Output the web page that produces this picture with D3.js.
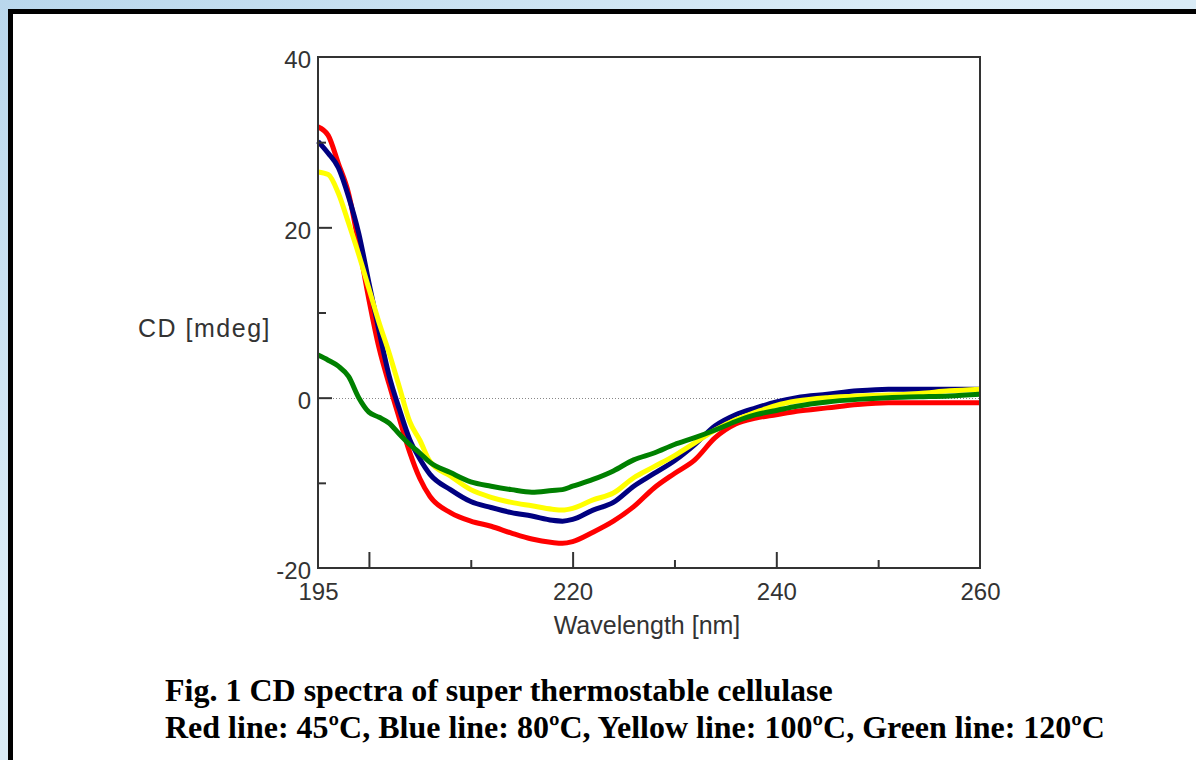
<!DOCTYPE html>
<html>
<head>
<meta charset="utf-8">
<script src="https://cdn.jsdelivr.net/npm/d3@7"></script>
<style>
  body { margin: 0; padding: 0; overflow: hidden; }
  svg { display: block; }
</style>
</head>
<body>
<div id="chart"></div>
<script>
// wavelengths (nm) the curves were read at
const wavelengths = [195, 196, 197, 198, 199, 200, 201, 202, 203, 204, 205, 206, 208, 210, 212, 214, 216, 218, 219, 220,
  222, 224, 226, 228, 230, 232, 234, 236, 238, 240, 242, 245, 248, 251, 254, 257, 260];

// CD [mdeg] per temperature
const red45 = [31.8, 30.8, 27.5, 24.0, 18.0, 11.5, 5.8, 1.5, -2.5, -6.4, -9.5, -11.6, -13.5, -14.5, -15.1, -15.9, -16.6, -17.0, -17.1, -16.9,
  -15.8, -14.5, -12.8, -10.6, -8.9, -7.3, -4.7, -3.1, -2.4, -2.0, -1.6, -1.2, -0.8, -0.6, -0.6, -0.6, -0.6];
const blue80 = [30.1, 28.7, 27.0, 23.6, 19.3, 13.5, 7.8, 2.5, -1.4, -4.9, -7.2, -9.0, -10.8, -12.2, -12.9, -13.5, -13.9, -14.4, -14.5, -14.3,
  -13.2, -12.3, -10.4, -8.9, -7.4, -5.5, -3.3, -2.0, -1.2, -0.5, 0.0, 0.4, 0.8, 1.0, 1.0, 1.0, 1.0];
const yellow100 = [26.5, 26.2, 24.0, 20.5, 16.8, 12.8, 8.8, 5.2, 1.2, -2.8, -5.0, -7.5, -9.2, -10.8, -11.7, -12.3, -12.7, -13.1, -13.2, -13.0,
  -12.0, -11.2, -9.4, -8.1, -6.8, -5.3, -3.8, -2.6, -1.7, -0.9, -0.4, 0.0, 0.2, 0.3, 0.5, 0.8, 1.0];
const green120 = [5.0, 4.4, 3.7, 2.5, 0.0, -1.7, -2.3, -3.0, -4.3, -5.5, -6.5, -7.6, -8.8, -9.9, -10.4, -10.8, -11.1, -10.9, -10.8, -10.4,
  -9.6, -8.6, -7.3, -6.5, -5.5, -4.7, -3.8, -2.8, -2.0, -1.5, -1.0, -0.5, -0.2, 0.0, 0.1, 0.2, 0.4];

const xLabelTicks = [195, 220, 240, 260];
const xMajorTicks = [200, 220, 240];
const xMinorTicks = [210, 230, 250];
const yLabelTicks = [40, 20, 0, -20];
const yMajorTicks = [20, 0];
const yMinorTicks = [30, 10, -10];

const series = [
  {name: "45ºC", values: red45, color: "#ff0000"},
  {name: "80ºC", values: blue80, color: "#000080"},
  {name: "100ºC", values: yellow100, color: "#ffff00"},
  {name: "120ºC", values: green120, color: "#008000"}
];

const W = 1196, H = 760;
const svg = d3.select("#chart").append("svg").attr("width", W).attr("height", H);

// background
const defs = svg.append("defs");
const grad = defs.append("linearGradient").attr("id", "bg").attr("x1", 0).attr("y1", 0).attr("x2", 1).attr("y2", 1);
grad.append("stop").attr("offset", "0%").attr("stop-color", "#b9d7ec");
grad.append("stop").attr("offset", "40%").attr("stop-color", "#dcedf7");
grad.append("stop").attr("offset", "100%").attr("stop-color", "#c9e1f1");
svg.append("rect").attr("width", W).attr("height", H).attr("fill", "url(#bg)");

// white panel with thick border
svg.append("rect").attr("x", 10.5).attr("y", 11.5).attr("width", W + 20).attr("height", H + 20)
  .attr("fill", "#fff").attr("stroke", "#000").attr("stroke-width", 5);

const margin = {left: 318, right: 980, top: 57, bottom: 568};
const x = d3.scaleLinear().domain([195, 260]).range([margin.left, margin.right]);
const y = d3.scaleLinear().domain([-20, 40]).range([margin.bottom, margin.top]);

const fontAxis = "'Liberation Sans', Arial, sans-serif";
const fmt = d => String(d); // plain hyphen for negatives

// zero line
svg.append("line")
  .attr("x1", x(195)).attr("x2", x(260)).attr("y1", Math.round(y(0)) + 0.5).attr("y2", Math.round(y(0)) + 0.5)
  .attr("stroke", "#888").attr("stroke-width", 1).attr("stroke-dasharray", "1,2");

// curves: red first, green on top
const line = d3.line().x((d, i) => x(wavelengths[i])).y(d => y(d)).curve(d3.curveMonotoneX);
svg.append("g").selectAll("path").data(series).join("path")
  .attr("d", d => line(d.values))
  .attr("fill", "none")
  .attr("stroke", d => d.color)
  .attr("stroke-width", 5)
  .attr("stroke-linejoin", "round");

// frame
svg.append("rect")
  .attr("x", margin.left).attr("y", margin.top)
  .attr("width", margin.right - margin.left).attr("height", margin.bottom - margin.top)
  .attr("fill", "none").attr("stroke", "#333").attr("stroke-width", 2);

// x ticks (inward)
const bottom = svg.append("g").attr("transform", `translate(0,${margin.bottom})`);
bottom.append("g").call(d3.axisBottom(x).tickValues(xMajorTicks).tickSize(-16).tickFormat(""));
bottom.append("g").call(d3.axisBottom(x).tickValues(xMinorTicks).tickSize(-8).tickFormat(""));
bottom.append("g").call(d3.axisBottom(x).tickValues(xLabelTicks).tickSize(0).tickPadding(15).tickFormat(fmt));
bottom.selectAll(".domain").remove();
bottom.selectAll("line").attr("stroke", "#333").attr("stroke-width", 2);
bottom.selectAll("text").attr("font-family", fontAxis).attr("font-size", 24).attr("fill", "#333");

// y ticks (inward)
const left = svg.append("g").attr("transform", `translate(${margin.left},0)`);
left.append("g").call(d3.axisLeft(y).tickValues(yMajorTicks).tickSize(-14).tickFormat(""));
left.append("g").call(d3.axisLeft(y).tickValues(yMinorTicks).tickSize(-8).tickFormat(""));
left.append("g").call(d3.axisLeft(y).tickValues(yLabelTicks).tickSize(0).tickPadding(7).tickFormat(fmt));
left.selectAll(".domain").remove();
left.selectAll("line").attr("stroke", "#333").attr("stroke-width", 2);
left.selectAll("text").attr("font-family", fontAxis).attr("font-size", 24).attr("fill", "#333").attr("dy", "0.45em");

// axis titles
svg.append("text").attr("x", 271).attr("y", 337).attr("text-anchor", "end")
  .attr("font-family", fontAxis).attr("font-size", 25).attr("letter-spacing", 1.5).attr("fill", "#333").text("CD [mdeg]");
svg.append("text").attr("x", 647).attr("y", 634).attr("text-anchor", "middle")
  .attr("font-family", fontAxis).attr("font-size", 25).attr("fill", "#333").text("Wavelength [nm]");

// caption
const fontCap = "'Liberation Serif', 'Times New Roman', serif";
svg.append("text").attr("x", 165).attr("y", 701)
  .attr("font-family", fontCap).attr("font-size", 32).attr("font-weight", "bold").attr("fill", "#000")
  .text("Fig. 1 CD spectra of super thermostable cellulase");
svg.append("text").attr("x", 165).attr("y", 738)
  .attr("font-family", fontCap).attr("font-size", 32).attr("font-weight", "bold").attr("fill", "#000")
  .text("Red line: 45ºC, Blue line: 80ºC, Yellow line: 100ºC, Green line: 120ºC");
</script>
</body>
</html>
